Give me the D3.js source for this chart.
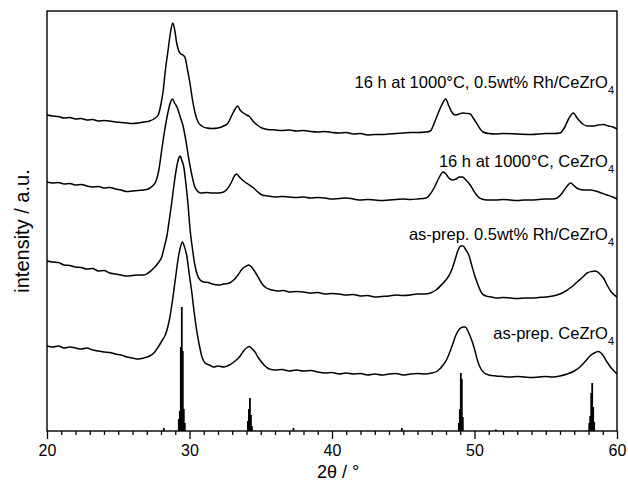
<!DOCTYPE html>
<html>
<head>
<meta charset="utf-8">
<script src="https://cdn.jsdelivr.net/npm/d3@7"></script>
<style>
  html, body { margin: 0; padding: 0; background: #fff; }
  svg { display: block; font-family: "Liberation Sans", Arial, sans-serif; }
</style>
</head>
<body>
<svg id="chart" width="628" height="486"></svg>
<script>
// ---- data (2θ in degrees, intensity in arbitrary units, offsets included) ----
const xTicks = [20, 30, 40, 50, 60];

const labels = [
  "16 h at 1000°C, 0.5wt% Rh/CeZrO",
  "16 h at 1000°C, CeZrO",
  "as-prep. 0.5wt% Rh/CeZrO",
  "as-prep. CeZrO"
];
const labelLevels = [343, 264, 191, 92];

// 16 h at 1000°C, 0.5wt% Rh/CeZrO4
const agedRh = [
  [20.0,316],[20.4,315],[20.8,314.5],[21.2,313],[21.6,313.5],[22.0,312],[22.4,312.5],[22.8,311],[23.2,311.5],[23.6,310],
  [24.0,310.5],[24.4,310],[24.8,309],[25.2,308.5],[25.6,308],[26.0,307.5],[26.4,308],[26.8,309],[27.2,310],[27.5,312],
  [27.8,316],[28.0,327],[28.16,341],[28.3,360],[28.47,378],[28.65,397],[28.82,408],[28.95,402],[29.1,388],[29.25,380],
  [29.4,377],[29.55,376],[29.7,373],[29.85,362],[30.03,348],[30.2,332],[30.39,318],[30.6,309],[30.86,305],[31.2,303],
  [31.6,302.5],[32.0,303],[32.4,305],[32.7,308],[32.95,315],[33.2,322],[33.38,325],[33.55,321],[33.78,318],[34.0,316],
  [34.2,314.5],[34.45,310],[34.75,306],[35.07,303],[35.5,301.5],[36.0,301],[36.5,300.5],[37.0,301],[37.5,300],[38.0,300.5],
  [38.5,299.5],[39.0,299],[39.5,299.5],[40.0,298.5],[40.5,298],[41.0,298.5],[41.5,297],[42.0,297.5],[42.5,296],[43.0,296.5],
  [43.5,296.5],[44.0,297],[44.5,297.5],[45.0,298],[45.5,298.5],[46.0,298.5],[46.6,299],[46.9,300],[47.15,307],[47.4,316],
  [47.7,326],[47.98,332],[48.2,325],[48.45,318],[48.65,316],[48.9,317],[49.2,318],[49.5,317.5],[49.7,317],[49.95,312],
  [50.16,307.5],[50.4,302],[50.6,299],[51.0,297.5],[51.5,297],[52.0,297.5],[53.0,297],[54.0,296.5],[55.0,297.5],[55.6,297.5],
  [56.0,298],[56.3,303],[56.6,312],[56.94,318],[57.2,313],[57.6,307],[57.9,305],[58.3,305],[58.7,306],[59.04,306.5],
  [59.4,305],[59.7,304],[60.0,302]
];

// 16 h at 1000°C, CeZrO4
const agedCZ = [
  [20.0,249],[20.4,248],[20.8,248.5],[21.2,247],[21.6,247.5],[22.0,246],[22.4,246.5],[22.8,245],[23.2,244],[23.6,244.5],
  [24.0,243],[24.4,243.5],[24.8,242],[25.2,241],[25.6,239.5],[26.0,240],[26.4,240.5],[26.8,241],[27.1,242],[27.4,245],
  [27.65,250],[27.85,261],[28.05,281],[28.25,300],[28.45,316],[28.65,328],[28.8,332],[28.95,328],[29.15,323],[29.35,314],
  [29.55,305],[29.75,290],[29.95,272],[30.15,257],[30.35,245],[30.55,240],[30.8,238],[31.2,238.5],[31.6,238],[32.0,238],
  [32.4,239],[32.7,243],[32.95,249],[33.15,255],[33.3,257],[33.5,254],[33.8,250],[34.1,247],[34.5,243],[34.8,239],
  [35.1,236],[35.5,235],[36.0,234],[36.5,234.5],[37.0,234],[37.5,233.5],[38.0,234],[38.5,233],[39.0,233.5],[39.5,233],
  [40.0,232],[40.5,232.5],[41.0,233],[41.5,232],[42.0,231],[42.5,231.5],[43.0,231],[43.5,230.5],[44.0,231],[44.5,231.5],
  [45.0,232],[45.5,231.5],[46.0,232],[46.6,233],[46.9,237],[47.2,244],[47.5,253],[47.8,259],[48.0,257],[48.2,253],
  [48.45,251],[48.7,252],[48.95,254],[49.15,254],[49.4,251],[49.7,246],[49.95,240],[50.2,235],[50.5,232],[50.9,231],
  [51.5,231],[52.0,231.5],[52.5,231],[53.0,230.5],[53.5,231],[54.0,231],[54.5,231.5],[55.0,232],[55.5,232],[55.8,233],
  [56.1,237],[56.4,243],[56.75,248],[57.0,245],[57.3,242],[57.7,241],[58.1,241],[58.5,240],[58.9,238],[59.3,236],
  [59.7,234],[60.0,232]
];

// as-prep. 0.5wt% Rh/CeZrO4
const prepRh = [
  [20.0,170],[20.4,169],[20.8,168.5],[21.2,166],[21.6,165.5],[22.0,164],[22.4,163.5],[22.8,162],[23.2,162.5],[23.6,160],
  [24.0,160.5],[24.4,158],[24.8,157],[25.2,156],[25.6,155],[26.0,155.5],[26.4,156],[26.8,156],[27.1,158],[27.5,163],
  [27.8,168],[28.05,174],[28.25,185],[28.4,194],[28.6,213],[28.75,228],[28.9,245],[29.1,264],[29.25,273],[29.35,275],
  [29.45,271],[29.6,264],[29.75,247],[29.9,226],[30.05,200],[30.2,183],[30.35,168],[30.55,156],[30.75,151],[31.0,149],
  [31.3,148.5],[31.6,147],[32.0,146],[32.4,147],[32.8,148],[33.1,151],[33.4,156],[33.7,162],[34.0,165],[34.15,166],
  [34.35,164],[34.6,159],[34.85,153],[35.1,147],[35.4,143],[35.8,141],[36.2,140],[36.6,140.5],[37.0,139],[37.5,139.5],
  [38.0,139],[38.5,138],[39.0,138.5],[39.5,137],[40.0,137.5],[40.5,137],[41.0,136],[41.5,136.5],[42.0,135],[42.5,135.5],
  [43.0,134],[43.5,134.5],[44.0,135],[44.5,136],[45.0,135.5],[45.5,136],[46.0,137],[46.5,137],[46.9,138],[47.3,141],
  [47.8,148],[48.1,153],[48.4,161],[48.65,172],[48.85,181],[49.05,185],[49.2,185],[49.4,181],[49.6,176],[49.8,166],
  [50.0,156],[50.25,146],[50.5,138],[50.8,135],[51.2,134],[51.6,133],[52.0,133.5],[52.5,133],[53.0,132.5],[53.6,133],
  [54.0,133],[54.5,133.5],[55.0,134],[55.5,135],[56.0,137],[56.4,140],[56.8,144],[57.2,149],[57.6,154],[57.9,158],
  [58.2,159.5],[58.5,160],[58.8,157],[59.05,153],[59.3,146],[59.6,139],[60.0,134]
];

// as-prep. CeZrO4
const prepCZ = [
  [20.0,85],[20.4,84],[20.8,85],[21.2,83],[21.6,84],[22.0,83],[22.4,82],[22.8,83],[23.2,81],[23.6,80],
  [24.0,79],[24.4,78.5],[24.8,77],[25.2,76],[25.6,74],[26.0,73],[26.4,72],[26.8,73],[27.2,75],[27.5,78],
  [27.8,84],[28.1,91],[28.3,96],[28.6,112],[28.8,130],[29.0,151],[29.2,172],[29.35,183],[29.5,189],[29.65,184],
  [29.8,176],[30.0,155],[30.15,140],[30.3,122],[30.5,101],[30.7,85],[30.9,73],[31.1,68],[31.4,66],[31.7,64],
  [32.0,65],[32.4,64],[32.8,66],[33.2,70],[33.5,74],[33.8,80],[34.0,83],[34.2,84.5],[34.4,82],[34.6,79],
  [34.8,74],[35.0,70],[35.3,65],[35.6,62],[36.0,61],[36.5,61.5],[37.0,60],[37.5,61],[38.0,60],[38.5,60.5],
  [39.0,59],[39.5,58],[40.0,58.5],[40.5,57],[41.0,58],[41.5,57],[42.0,57.5],[42.5,56],[43.0,57],[43.5,56],
  [44.0,57],[44.5,57.5],[45.0,56],[45.5,57],[46.0,57.5],[46.5,57],[47.0,58],[47.4,60],[47.8,66],[48.1,73],
  [48.4,84],[48.7,96],[48.95,102],[49.2,104],[49.35,104],[49.6,98],[49.8,91],[50.0,82],[50.2,71],[50.45,62],
  [50.7,58],[51.0,56],[51.5,55],[52.0,54.5],[52.5,54],[53.0,54.5],[53.5,54],[54.0,53.5],[54.5,54],[55.0,54.5],
  [55.5,54],[56.0,55],[56.5,57],[57.0,60],[57.4,64],[57.8,70],[58.1,75],[58.4,78],[58.7,79.5],[59.0,76],
  [59.3,69],[59.6,63],[60.0,57]
];

// reference pattern sticks
const refTheta = [28.2, 29.25, 29.32, 29.39, 29.46, 29.53, 29.6, 29.67, 34.1, 34.17, 34.24, 34.31, 34.38, 37.3, 44.9,
                  48.9, 48.97, 49.04, 49.11, 49.18, 51.5, 58.05, 58.12, 58.19, 58.26, 58.33, 58.4];
const refInt   = [3, 12, 20, 84, 124, 80, 22, 8, 10, 22, 33, 16, 5, 3, 3,
                  8, 22, 58, 52, 14, 1.5, 8, 15, 38, 48, 24, 9];

// ---- drawing ----
const svg = d3.select("#chart");
const m = { left: 47, right: 617, top: 11, bottom: 431 };

const x = d3.scaleLinear().domain([20, 60]).range([m.left, m.right]);
const y = d3.scaleLinear().domain([0, 420]).range([m.bottom, m.top]);

const line = d3.line().x(d => x(d[0])).y(d => y(d[1])).curve(d3.curveMonotoneX);

// reference sticks
svg.append("g").selectAll("rect")
  .data(refTheta.map((t, i) => [t, refInt[i]]))
  .enter().append("rect")
  .attr("x", d => x(d[0]) - 0.9)
  .attr("width", 1.8)
  .attr("y", d => y(d[1]))
  .attr("height", d => y(0) - y(d[1]))
  .attr("fill", "#000");

// patterns
[agedRh, agedCZ, prepRh, prepCZ].forEach(s => {
  svg.append("path")
    .datum(s)
    .attr("d", line)
    .attr("fill", "none")
    .attr("stroke", "#000")
    .attr("stroke-width", 1.5)
    .attr("stroke-linejoin", "round");
});

// bottom axis ticks
const xAxis = d3.axisBottom(x).tickValues(xTicks).tickSize(8).tickPadding(6).tickFormat(d3.format("d"));
const gx = svg.append("g").attr("transform", `translate(0,${m.bottom})`).call(xAxis);
gx.select(".domain").remove();
gx.selectAll("line").attr("stroke", "#000").attr("stroke-width", 1.3);
gx.selectAll("text").attr("font-size", 16).attr("fill", "#000")
  .attr("font-family", "'Liberation Sans', Arial, sans-serif");

const minor = d3.axisBottom(x).tickValues(d3.range(21, 60).filter(v => v % 10 !== 0)).tickSize(4).tickFormat("");
const gm = svg.append("g").attr("transform", `translate(0,${m.bottom})`).call(minor);
gm.select(".domain").remove();
gm.selectAll("line").attr("stroke", "#000").attr("stroke-width", 1.3);

// frame
svg.append("rect")
  .attr("x", m.left).attr("y", m.top)
  .attr("width", m.right - m.left).attr("height", m.bottom - m.top)
  .attr("fill", "none").attr("stroke", "#000").attr("stroke-width", 1.4);

// labels
labels.forEach((txt, i) => {
  const t = svg.append("text")
    .attr("x", 614)
    .attr("y", y(labelLevels[i]))
    .attr("text-anchor", "end")
    .attr("font-size", 16.5)
    .attr("fill", "#000");
  t.append("tspan").text(txt);
  t.append("tspan").attr("font-size", 11).attr("dy", 6).text("4");
});

// axis titles
svg.append("text")
  .attr("x", (m.left + m.right) / 2 + 6)
  .attr("y", 478)
  .attr("text-anchor", "middle")
  .attr("font-size", 18)
  .attr("fill", "#000")
  .text("2θ / °");

svg.append("text")
  .attr("transform", `translate(29,231) rotate(-90)`)
  .attr("text-anchor", "middle")
  .attr("font-size", 20)
  .attr("fill", "#000")
  .text("intensity / a.u.");
</script>
</body>
</html>
